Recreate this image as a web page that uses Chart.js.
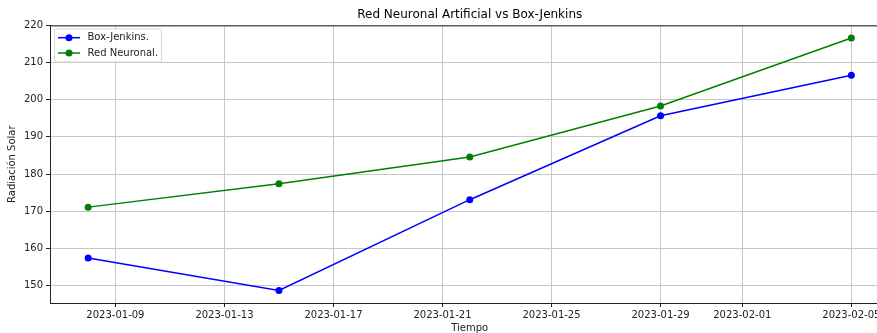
<!DOCTYPE html>
<html>
<head>
<meta charset="utf-8">
<script src="https://cdn.jsdelivr.net/npm/chart.js@4.4.0/dist/chart.umd.min.js"></script>
<style>
    html, body { margin: 0; padding: 0; background: #fff; overflow: hidden; }
    .chart-box { width: 940px; height: 333px; position: relative; }
</style>
</head>
<body>
<div class="chart-box"><canvas id="solarChart"></canvas></div>
<script>
// Fechas de las observaciones
const fechas = ['2023-01-08', '2023-01-15', '2023-01-22', '2023-01-29', '2023-02-05'];
// Series
const boxJenkins = [157.4, 148.7, 173.1, 195.7, 206.6];
const redNeuronal = [171.1, 177.4, 184.6, 198.3, 216.6];
// Ticks
const xTickFechas = ['2023-01-09', '2023-01-13', '2023-01-17', '2023-01-21', '2023-01-25', '2023-01-29', '2023-02-01', '2023-02-05'];
const yTicks = [150, 160, 170, 180, 190, 200, 210, 220];

const DAY = 86400000;
const toDay = s => Date.parse(s + 'T00:00:00Z') / DAY;
const fmtDay = d => new Date(Math.round(d) * DAY).toISOString().slice(0, 10);

const xs = fechas.map(toDay);
const xPad = (xs[xs.length - 1] - xs[0]) * 0.05;
const allY = boxJenkins.concat(redNeuronal);
const yMinData = Math.min(...allY), yMaxData = Math.max(...allY);
const yPad = (yMaxData - yMinData) * 0.05;

const toPoints = arr => arr.map((v, i) => ({ x: xs[i], y: v }));

Chart.defaults.font.family = "'DejaVu Sans', sans-serif";
Chart.defaults.color = '#222';

// top spine + matplotlib style legend
const framePlugin = {
    id: 'framePlugin',
    afterDatasetsDraw(chart) {
        const { ctx, chartArea: a } = chart;
        ctx.save();
        ctx.strokeStyle = '#222';
        ctx.lineWidth = 1;
        ctx.beginPath();
        ctx.moveTo(a.left, a.top + 0.5);
        ctx.lineTo(a.right, a.top + 0.5);
        ctx.stroke();

        // legend
        const lx = a.left + 4.5, ly = a.top + 3.5, lw = 107, lh = 33;
        ctx.fillStyle = 'rgba(255,255,255,0.8)';
        ctx.strokeStyle = '#d6d6d6';
        ctx.beginPath();
        ctx.roundRect(lx, ly, lw, lh, 2);
        ctx.fill();
        ctx.stroke();
        chart.data.datasets.forEach((ds, i) => {
            const cy = ly + 8.8 + i * 15.3;
            ctx.strokeStyle = ds.borderColor;
            ctx.lineWidth = 1.5;
            ctx.beginPath();
            ctx.moveTo(a.left + 8, cy);
            ctx.lineTo(a.left + 30, cy);
            ctx.stroke();
            ctx.fillStyle = ds.backgroundColor;
            ctx.beginPath();
            ctx.arc(a.left + 19, cy, 3.5, 0, Math.PI * 2);
            ctx.fill();
            ctx.fillStyle = '#222';
            ctx.font = "10px 'DejaVu Sans'";
            ctx.textBaseline = 'middle';
            ctx.fillText(ds.label, a.left + 37.5, cy);
        });
        ctx.restore();
    }
};

const ctx = document.getElementById('solarChart').getContext('2d');
new Chart(ctx, {
    type: 'line',
    data: {
        datasets: [{
            label: 'Box-Jenkins.',
            data: toPoints(boxJenkins),
            borderColor: '#0000ff',
            backgroundColor: '#0000ff',
            borderWidth: 1.5,
            pointRadius: 3.5,
            pointBorderWidth: 0,
            tension: 0
        }, {
            label: 'Red Neuronal.',
            data: toPoints(redNeuronal),
            borderColor: '#008000',
            backgroundColor: '#008000',
            borderWidth: 1.5,
            pointRadius: 3.5,
            pointBorderWidth: 0,
            tension: 0
        }]
    },
    options: {
        responsive: true,
        maintainAspectRatio: false,
        animation: false,
        layout: { padding: { left: 6, right: 50.5, top: 0, bottom: 0 } },
        plugins: {
            legend: { display: false },
            tooltip: { enabled: false },
            title: {
                display: true,
                fullSize: false,
                text: 'Red Neuronal Artificial vs Box-Jenkins',
                color: '#000',
                font: { size: 12, weight: 'normal' },
                padding: { top: 8, bottom: 3 }
            }
        },
        scales: {
            x: {
                type: 'linear',
                min: xs[0] - xPad,
                max: xs[xs.length - 1] + xPad,
                afterBuildTicks: scale => {
                    scale.ticks = xTickFechas.map(s => ({ value: toDay(s) }));
                },
                afterFit: scale => { scale.height = 30; },
                grid: { color: '#c6c6c6', lineWidth: 1, tickLength: 4, tickColor: '#222' },
                border: { display: true, color: '#222', width: 1 },
                ticks: {
                    autoSkip: false,
                    maxRotation: 0,
                    padding: 2,
                    color: '#222',
                    font: { size: 10 },
                    callback: value => fmtDay(value)
                },
                title: {
                    display: true,
                    text: 'Tiempo',
                    color: '#222',
                    font: { size: 10 },
                    padding: { top: 0, bottom: -1 }
                }
            },
            y: {
                min: yMinData - yPad,
                max: yMaxData + yPad,
                afterBuildTicks: scale => {
                    scale.ticks = yTicks.map(v => ({ value: v }));
                },
                afterFit: scale => { scale.width = 44; },
                grid: { color: '#c6c6c6', lineWidth: 1, tickLength: 4, tickColor: '#222' },
                border: { display: true, color: '#222', width: 1 },
                ticks: {
                    padding: 3,
                    color: '#222',
                    font: { size: 10 }
                },
                title: {
                    display: true,
                    text: 'Radiación Solar',
                    color: '#222',
                    font: { size: 10 },
                    padding: { top: 0, bottom: 0 }
                }
            }
        }
    },
    plugins: [framePlugin]
});
</script>
</body>
</html>
